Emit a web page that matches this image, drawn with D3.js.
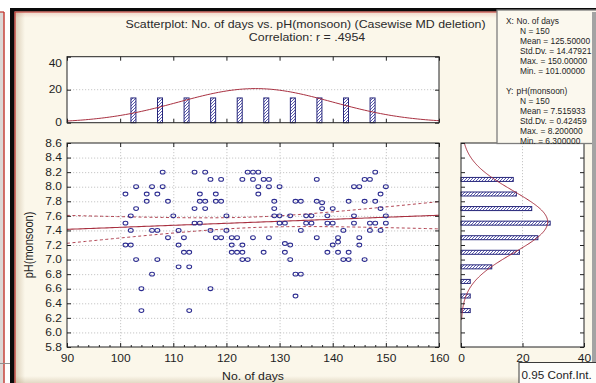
<!DOCTYPE html>
<html><head><meta charset="utf-8">
<script src="https://cdn.jsdelivr.net/npm/d3@7"></script>
<style>html,body{margin:0;padding:0;background:#fff;overflow:hidden}</style>
</head><body>
<svg id="chart" width="596" height="383"></svg>
<script>
// Observations: day number and pH (monsoon), one entry per plotted case
const obsDays = [
  101,101,101, 102,102,102, 103,103,103, 104,104, 105,105, 106,106,106, 107,107,107, 108,108, 109,109, 110,
  111,111,111, 112,112, 113,113,113, 114,114,114, 115,115,115, 116,116,116, 117,117,117, 118,118,118, 119,119,119, 120,120,
  121,121,121, 122,122, 123,123,123,123, 124,124, 125,125,125, 126,126,126, 127,127, 128,128,128, 129,129,129, 130,130,130,
  131,131,131, 132,132,132, 133,133,133, 134,134,134, 135,135, 136,136, 137,137,137, 138,138, 139,139,139, 140,140,140,
  141,141,141, 142,142, 143,143,143, 144,144,144, 145,145,145, 146,146,146, 147,147,147, 148,148,148, 149,149,149, 150,150,150
];
const obsPH = [
  7.9,7.5,7.2, 7.6,7.4,7.2, 8.0,7.7,7.0, 6.6,6.3, 7.9,7.8, 8.0,7.4,6.8, 7.9,7.4,7.0, 8.2,8.0, 7.8,7.3, 7.6,
  7.4,7.2,6.9, 7.3,7.1, 7.1,6.9,6.3, 8.2,7.7,7.5, 7.9,7.8,7.5, 8.2,7.8,7.7, 8.1,7.4,6.6, 7.9,7.8,7.3, 8.1,7.8,7.3, 7.6,7.4,
  7.3,7.2,7.1, 7.3,7.1, 8.1,7.2,7.1,7.0, 8.2,7.0, 8.2,8.1,7.3, 8.2,8.0,7.9, 8.1,7.1, 8.1,8.0,7.3, 7.8,7.7,7.6, 8.0,7.6,7.5,
  7.5,7.22,7.1, 7.6,7.2,7.0, 7.8,6.8,6.5, 7.8,7.4,6.8, 7.6,7.5, 7.6,7.5, 8.1,7.8,7.3, 7.78,7.7, 7.6,7.5,7.1, 7.7,7.5,7.2,
  7.3,7.24,7.1, 7.4,7.0, 7.8,7.1,7.0, 8.0,7.6,7.5, 8.0,7.3,7.2, 8.1,7.8,7.0, 8.1,7.5,7.4, 8.2,7.8,7.5, 7.9,7.7,7.4, 8.0,7.6,7.5
];

// Histogram of No. of days (bin centres, counts)
const dayBinCenters = [102.5,107.5,112.5,117.5,122.5,127.5,132.5,137.5,142.5,147.5];
const dayBinCounts  = [15,15,15,15,15,15,15,15,15,15];
const dayBinWidth = 5;

// Histogram of pH (bin centres, counts)
const phBinCenters = [6.3,6.5,6.7,6.9,7.1,7.3,7.5,7.7,7.9,8.1];
const phBinCounts  = [3,3,3,10,19,25,29,23,18,17];
const phBinWidth = 0.2;

// Descriptive statistics
const nCases = 150;
const meanX = 125.5, sdX = 14.479212;
const meanY = 7.515933, sdY = 0.424591;

// Fitted line and its 0.95 confidence band
const fitIntercept90 = 7.415;   // fitted pH at day 90
const fitSlope = 0.00276;
const residSd = 0.447;
const tCrit = 1.976;

// Axis tick values
const dayTicks = [90,100,110,120,130,140,150,160];
const phTicks = [5.8,6.0,6.2,6.4,6.6,6.8,7.0,7.2,7.4,7.6,7.8,8.0,8.2,8.4,8.6];
const topCountTicks = [0,20,40];
const sideCountTicks = [0,20,40];

const titleLines = ["Scatterplot: No. of days vs. pH(monsoon) (Casewise MD deletion)", "Correlation: r = .4954"];
const statsXLines = ["N = 150","Mean = 125.50000","Std.Dv. = 14.47921","Max. = 150.00000","Min. = 101.00000"];
const statsYLines = ["N = 150","Mean = 7.515933","Std.Dv. = 0.42459","Max. = 8.200000","Min. = 6.300000"];

// ---------------------------------------------------------------
const SX = 1.2;               // horizontal glyph stretch
const FONT = "'Liberation Sans', Arial, sans-serif";
const INK = "#1e1e1e";
const BLUE = "#26267a";
const CURVE = "#a83040";
const GRID = "#b9b9b9";

const svg = d3.select("#chart");

// frame and panel
svg.append("rect").attr("x",0).attr("y",0).attr("width",596).attr("height",383).attr("fill","#ffffff");
svg.append("rect").attr("x",0).attr("y",12).attr("width",3.5).attr("height",371).attr("fill","#dcd8d6");
svg.append("line").attr("x1",4).attr("x2",4).attr("y1",12).attr("y2",383).attr("stroke","#c0342c").attr("stroke-width",1.4);
svg.append("line").attr("x1",0).attr("x2",4).attr("y1",12).attr("y2",12).attr("stroke","#c0342c").attr("stroke-width",1.2);
svg.append("line").attr("x1",0).attr("x2",10).attr("y1",363.5).attr("y2",363.5).attr("stroke","#8f8f8f").attr("stroke-width",1);

svg.append("rect").attr("x",14).attr("y",11).attr("width",582).attr("height",372).attr("fill","#fbf7ea");
const defs = svg.append("defs");
const gl = defs.append("linearGradient").attr("id","shadeL").attr("x1",0).attr("x2",1).attr("y1",0).attr("y2",0);
gl.append("stop").attr("offset",0).attr("stop-color","#9c7f55").attr("stop-opacity",0.35);
gl.append("stop").attr("offset",1).attr("stop-color","#9c7f55").attr("stop-opacity",0);
const gb = defs.append("linearGradient").attr("id","shadeB").attr("x1",0).attr("x2",0).attr("y1",1).attr("y2",0);
gb.append("stop").attr("offset",0).attr("stop-color","#9c7f55").attr("stop-opacity",0.25);
gb.append("stop").attr("offset",1).attr("stop-color","#9c7f55").attr("stop-opacity",0);
const gt = defs.append("linearGradient").attr("id","shadeT").attr("x1",0).attr("x2",0).attr("y1",0).attr("y2",1);
gt.append("stop").attr("offset",0).attr("stop-color","#b04030").attr("stop-opacity",0.18);
gt.append("stop").attr("offset",1).attr("stop-color","#b04030").attr("stop-opacity",0);
svg.append("rect").attr("x",15).attr("y",12).attr("width",10).attr("height",371).attr("fill","url(#shadeL)");
svg.append("rect").attr("x",15).attr("y",376).attr("width",577).attr("height",7).attr("fill","url(#shadeB)");
svg.append("rect").attr("x",15).attr("y",12).attr("width",577).attr("height",6).attr("fill","url(#shadeT)");

svg.append("rect").attr("x",10).attr("y",8).attr("width",586).attr("height",3.5).attr("fill","#0a0a0a");
svg.append("rect").attr("x",10).attr("y",8).attr("width",4.5).attr("height",375).attr("fill","#0a0a0a");
svg.append("line").attr("x1",14.5).attr("x2",596).attr("y1",12).attr("y2",12).attr("stroke","#c0302a").attr("stroke-width",1.2);
svg.append("line").attr("x1",15).attr("x2",15).attr("y1",12).attr("y2",383).attr("stroke","#c0302a").attr("stroke-width",1.2);

// hatch fill for histogram bars
defs.append("pattern").attr("id","hatch").attr("patternUnits","userSpaceOnUse")
  .attr("width",3).attr("height",3)
  .call(p => {
    p.append("rect").attr("width",3).attr("height",3).attr("fill","#ffffff");
    p.append("path").attr("d","M-1,1 L1,-1 M0,3 L3,0 M2,4 L4,2").attr("stroke","#4a4aa6").attr("stroke-width",0.9);
  });

function label(g, x, y, s, anchor, size, color, sx) {
  return g.append("text")
    .attr("transform", `translate(${x},${y}) scale(${sx || SX},1)`)
    .attr("text-anchor", anchor || "start")
    .attr("font-family", FONT)
    .attr("font-size", size || 10)
    .attr("fill", color || INK)
    .text(s);
}

// scales
const x = d3.scaleLinear().domain([90,160]).range([67,439]);
const y = d3.scaleLinear().domain([5.8,8.6]).range([347,143]);
const yTop = d3.scaleLinear().domain([0,40]).range([122.7,56.7]);
const xSide = d3.scaleLinear().domain([0,40]).range([461,584]);

// ---------- title ----------
label(svg, 305.5, 28, titleLines[0], "middle", 10.3, "#2a2a2a");
label(svg, 307, 41, titleLines[1], "middle", 10.3, "#2a2a2a");

// ---------- plot backgrounds ----------
svg.append("rect").attr("x",x(90)).attr("y",yTop(40)).attr("width",x(160)-x(90)).attr("height",yTop(0)-yTop(40)).attr("fill","#fff");
svg.append("rect").attr("x",x(90)).attr("y",y(8.6)).attr("width",x(160)-x(90)).attr("height",y(5.8)-y(8.6)).attr("fill","#fff");
svg.append("rect").attr("x",xSide(0)).attr("y",y(8.6)).attr("width",xSide(40)-xSide(0)).attr("height",y(5.8)-y(8.6)).attr("fill","#fff");

function clip(id, x0, y0, w, h) {
  defs.append("clipPath").attr("id", id).append("rect").attr("x",x0).attr("y",y0).attr("width",w).attr("height",h);
  return `url(#${id})`;
}
const clipMain = clip("clipMain", x(90), y(8.6), x(160)-x(90), y(5.8)-y(8.6));
const clipTop = clip("clipTop", x(90), yTop(40), x(160)-x(90), yTop(0)-yTop(40));
const clipSide = clip("clipSide", xSide(0), y(8.6), xSide(40)-xSide(0), y(5.8)-y(8.6));

// ---------- gridlines ----------
const grid = svg.append("g").attr("stroke", GRID).attr("stroke-width", 0.8).attr("stroke-dasharray","1.2,1.8");
grid.selectAll(".gh").data(phTicks.slice(1,-1)).join("line")
  .attr("x1",x(90)).attr("x2",x(160)).attr("y1",d=>y(d)+0.5).attr("y2",d=>y(d)+0.5);
grid.selectAll(".gv").data(dayTicks.slice(1,-1)).join("line")
  .attr("y1",y(8.6)).attr("y2",y(5.8)).attr("x1",d=>x(d)+0.5).attr("x2",d=>x(d)+0.5);
grid.append("line").attr("x1",x(90)).attr("x2",x(160)).attr("y1",yTop(20)).attr("y2",yTop(20));
grid.append("line").attr("x1",xSide(20)).attr("x2",xSide(20)).attr("y1",y(8.6)).attr("y2",y(5.8));

// ---------- top histogram ----------
const topG = svg.append("g");
topG.selectAll("rect.bar").data(dayBinCenters).join("rect")
  .attr("x", d => x(d) - 2.5).attr("width", 5)
  .attr("y", (d,i) => yTop(dayBinCounts[i])).attr("height", (d,i) => yTop(0) - yTop(dayBinCounts[i]))
  .attr("fill","url(#hatch)").attr("stroke",BLUE).attr("stroke-width",1);
const topCurve = d3.range(90, 160.01, 0.5).map(v => [v, nCases*dayBinWidth/(sdX*Math.sqrt(2*Math.PI))*Math.exp(-0.5*((v-meanX)/sdX)**2)]);
topG.append("path").datum(topCurve).attr("clip-path", clipTop)
  .attr("d", d3.line().x(d=>x(d[0])).y(d=>yTop(d[1])))
  .attr("fill","none").attr("stroke",CURVE).attr("stroke-width",1);

// ---------- side histogram ----------
const sideG = svg.append("g");
sideG.selectAll("rect.bar").data(phBinCenters).join("rect")
  .attr("x", xSide(0)).attr("width",(d,i)=> xSide(phBinCounts[i]) - xSide(0))
  .attr("y", d => y(d) - 2).attr("height", 4)
  .attr("fill","url(#hatch)").attr("stroke",BLUE).attr("stroke-width",1);
const sideCurve = d3.range(6.17, 8.601, 0.01).map(v => [v, nCases*phBinWidth/(sdY*Math.sqrt(2*Math.PI))*Math.exp(-0.5*((v-meanY)/sdY)**2)]);
sideG.append("path").datum(sideCurve).attr("clip-path", clipSide)
  .attr("d", d3.line().x(d=>xSide(d[1])).y(d=>y(d[0])))
  .attr("fill","none").attr("stroke",CURVE).attr("stroke-width",1);

// ---------- regression and confidence band ----------
const fit = v => fitIntercept90 + fitSlope*(v-90);
const half = v => tCrit*residSd*Math.sqrt(1/nCases + (v-meanX)**2/((nCases-1)*sdX*sdX));
const xs = d3.range(90, 160.01, 0.5);
const mainG = svg.append("g").attr("clip-path", clipMain);
mainG.append("path").datum(xs).attr("d", d3.line().x(d=>x(d)).y(d=>y(fit(d))))
  .attr("fill","none").attr("stroke",CURVE).attr("stroke-width",1.1);
[1,-1].forEach(s => {
  mainG.append("path").datum(xs).attr("d", d3.line().x(d=>x(d)).y(d=>y(fit(d)+s*half(d))))
    .attr("fill","none").attr("stroke",CURVE).attr("stroke-width",0.9).attr("stroke-dasharray","3,2.5");
});

// ---------- scatter points ----------
mainG.selectAll("ellipse").data(obsDays).join("ellipse")
  .attr("cx", d => x(d)).attr("cy", (d,i) => y(obsPH[i]))
  .attr("rx", 2.4).attr("ry", 1.9)
  .attr("fill","none").attr("stroke","#2c2c90").attr("stroke-width",1.05);

// ---------- frames ----------
const frame = (x0,y0,x1,y1) => svg.append("rect").attr("x",x0).attr("y",y0).attr("width",x1-x0).attr("height",y1-y0)
  .attr("fill","none").attr("stroke","#222").attr("stroke-width",1);
frame(x(90), yTop(40), x(160), yTop(0));
frame(x(90), y(8.6), x(160), y(5.8));
frame(xSide(0), y(8.6), xSide(40), y(5.8));

// ---------- axes ----------
function styleAxis(g, textFix) {
  g.select(".domain").remove();
  g.selectAll("line").attr("stroke","#222");
  g.selectAll("text").attr("font-family",FONT).attr("font-size",10).attr("fill",INK);
  if (textFix) g.selectAll("text").each(textFix);
}
const fmt1 = d3.format(".1f");
const stretchLeft = function(){ d3.select(this).attr("x", -5/SX).attr("transform",`scale(${SX},1)`); };
const stretchBottom = function(){ d3.select(this).attr("transform",`scale(${SX},1)`); };

// main plot: left with labels
svg.append("g").attr("transform",`translate(${x(90)},0)`)
  .call(d3.axisLeft(y).tickValues(phTicks).tickFormat(fmt1).tickSize(-4).tickPadding(5))
  .call(g => styleAxis(g, stretchLeft));
// main plot: right, top ticks
svg.append("g").attr("transform",`translate(${x(160)},0)`)
  .call(d3.axisRight(y).tickValues(phTicks).tickFormat("").tickSize(-4)).call(g=>styleAxis(g));
svg.append("g").attr("transform",`translate(0,${y(8.6)})`)
  .call(d3.axisTop(x).tickValues(dayTicks).tickFormat("").tickSize(-4)).call(g=>styleAxis(g));
// main plot: bottom with labels
svg.append("g").attr("transform",`translate(0,${y(5.8)})`)
  .call(d3.axisBottom(x).tickValues(dayTicks).tickFormat(d3.format("d")).tickSize(-4).tickPadding(8))
  .call(g => styleAxis(g, stretchBottom));
svg.append("g").attr("transform",`translate(0,${y(5.8)})`)
  .call(d3.axisBottom(x).tickValues(d3.range(92,160,2).filter(v=>v%10)).tickFormat("").tickSize(-2)).call(g=>styleAxis(g));

// top histogram axes
svg.append("g").attr("transform",`translate(${x(90)},0)`)
  .call(d3.axisLeft(yTop).tickValues(topCountTicks).tickFormat(d3.format("d")).tickSize(-4).tickPadding(5))
  .call(g => styleAxis(g, function(d){
      d3.select(this).attr("x", -5/SX).attr("transform",`scale(${SX},1)`);
      if (d === 40) d3.select(this).attr("y", 7);
  }));
svg.append("g").attr("transform",`translate(0,${yTop(40)})`)
  .call(d3.axisTop(x).tickValues(dayTicks).tickFormat("").tickSize(-4)).call(g=>styleAxis(g));
svg.append("g").attr("transform",`translate(0,${yTop(0)})`)
  .call(d3.axisBottom(x).tickValues(dayTicks).tickFormat("").tickSize(-4)).call(g=>styleAxis(g));
svg.append("g").attr("transform",`translate(${x(160)},0)`)
  .call(d3.axisRight(yTop).tickValues(topCountTicks).tickFormat("").tickSize(-4)).call(g=>styleAxis(g));

// side histogram axes
svg.append("g").attr("transform",`translate(${xSide(0)},0)`)
  .call(d3.axisLeft(y).tickValues(phTicks).tickFormat("").tickSize(-4)).call(g=>styleAxis(g));
svg.append("g").attr("transform",`translate(${xSide(40)},0)`)
  .call(d3.axisRight(y).tickValues(phTicks).tickFormat("").tickSize(-4)).call(g=>styleAxis(g));
svg.append("g").attr("transform",`translate(0,${y(5.8)})`)
  .call(d3.axisBottom(xSide).tickValues(sideCountTicks).tickFormat(d3.format("d")).tickSize(-4).tickPadding(8))
  .call(g => styleAxis(g, stretchBottom));

// axis titles
label(svg, 253, 380, "No. of days", "middle", 10.2);
svg.append("text")
  .attr("transform","translate(33,245) scale(1.15,1) rotate(-90)")
  .attr("text-anchor","middle").attr("font-family",FONT).attr("font-size",11).attr("fill",INK)
  .text("pH(monsoon)");

// ---------- statistics box ----------
const statsG = svg.append("g");
statsG.append("rect").attr("x",497).attr("y",10).attr("width",110).attr("height",133.5)
  .attr("fill","#fbf8ee").attr("stroke","#7d7d7d").attr("stroke-width",1.3);
const STAT_FS = 8.4;
label(statsG, 506, 23.5, "X:", "start", STAT_FS, INK, 1);
label(statsG, 516.5, 23.5, "No. of days", "start", STAT_FS, INK, 1);
statsXLines.forEach((s,i) => label(statsG, 520, 33.5 + 10*i, s, "start", STAT_FS, INK, 1));
label(statsG, 506, 93.5, "Y:", "start", STAT_FS, INK, 1);
label(statsG, 516.5, 93.5, "pH(monsoon)", "start", STAT_FS, INK, 1);
statsYLines.forEach((s,i) => label(statsG, 520, 103.5 + 10*i, s, "start", STAT_FS, INK, 1));

// right edge band
svg.append("rect").attr("x",592).attr("y",12).attr("width",4).attr("height",350).attr("fill","#a3a3a3");

// ---------- legend box ----------
svg.append("rect").attr("x",519).attr("y",362.5).attr("width",90).attr("height",30)
  .attr("fill","#fdfdfb").attr("stroke","#3a3a3a").attr("stroke-width",1);
label(svg, 521.5, 378.5, "0.95 Conf.Int.", "start", 10, INK, 1.17);
</script>
</body></html>
